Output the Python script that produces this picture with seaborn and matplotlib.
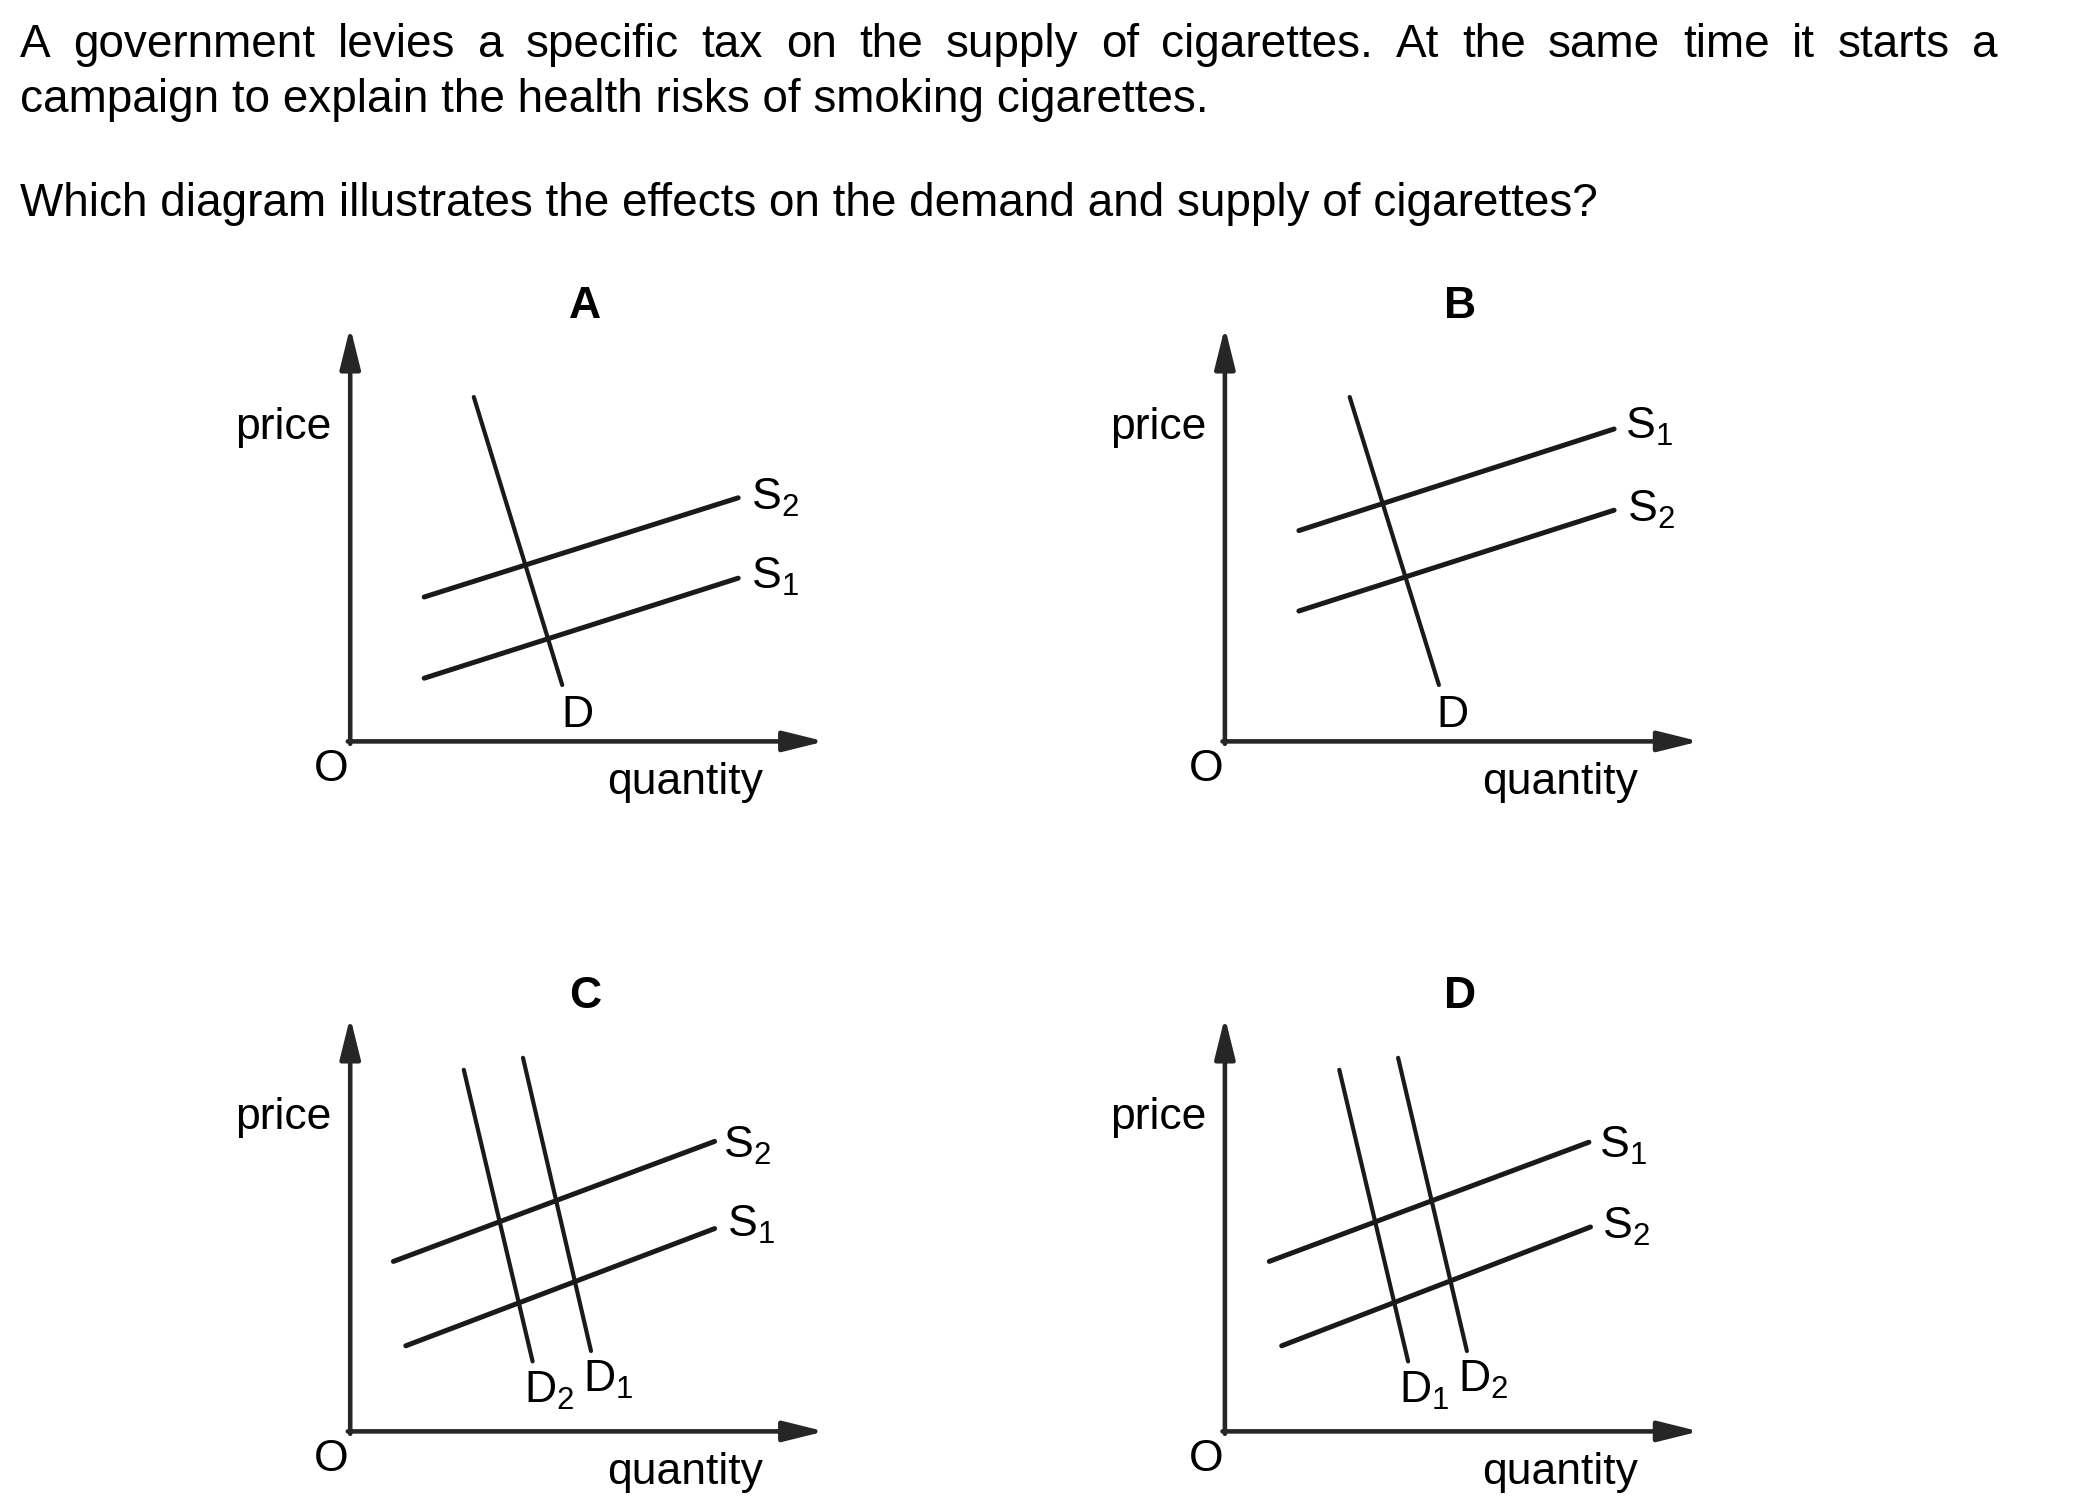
import numpy as np
import pandas as pd
import matplotlib
matplotlib.use("Agg")
import matplotlib.pyplot as plt
import seaborn as sns

# ---------------- text content ----------------
question_line1 = "A government levies a specific tax on the supply of cigarettes. At the same time it starts a"
question_line2 = "campaign to explain the health risks of smoking cigarettes."
question_line3 = "Which diagram illustrates the effects on the demand and supply of cigarettes?"

panel_names = ["A", "B", "C", "D"]
price_label = "price"
quantity_label = "quantity"
origin_label = "O"

# ---------------- curve data (quantity, price) in diagram units ----------------
A_curves = ["D", "S2", "S1"]
A_q_start = [3.09, 1.85, 1.85]
A_p_start = [8.61, 3.61, 1.58]
A_q_end = [5.30, 9.70, 9.70]
A_p_end = [1.41, 6.09, 4.08]

B_curves = ["D", "S1", "S2"]
B_q_start = [3.12, 1.85, 1.85]
B_p_start = [8.61, 5.27, 3.26]
B_q_end = [5.35, 9.73, 9.73]
B_p_end = [1.41, 7.81, 5.78]

C_curves = ["D2", "D1", "S2", "S1"]
C_q_start = [2.84, 4.32, 1.08, 1.39]
C_p_start = [9.04, 9.34, 4.25, 2.14]
C_q_end = [4.56, 6.02, 9.11, 9.11]
C_p_end = [1.75, 2.01, 7.25, 5.07]

D_curves = ["D1", "D2", "S1", "S2"]
D_q_start = [2.86, 4.33, 1.11, 1.42]
D_p_start = [9.04, 9.34, 4.25, 2.14]
D_q_end = [4.58, 6.05, 9.10, 9.14]
D_p_end = [1.75, 2.01, 7.23, 5.11]

panel_data = {
    "A": (A_curves, A_q_start, A_p_start, A_q_end, A_p_end),
    "B": (B_curves, B_q_start, B_p_start, B_q_end, B_p_end),
    "C": (C_curves, C_q_start, C_p_start, C_q_end, C_p_end),
    "D": (D_curves, D_q_start, D_p_start, D_q_end, D_p_end),
}

rows = []
for pname, (curves, qs, ps, qe, pe) in panel_data.items():
    for c, a, b, cc, d in zip(curves, qs, ps, qe, pe):
        rows.append({"panel": pname, "curve": c, "kind": c[0], "q": a, "p": b})
        rows.append({"panel": pname, "curve": c, "kind": c[0], "q": cc, "p": d})
df = pd.DataFrame(rows)

# ---------------- layout ----------------
W, H, DPI = 2099, 1511, 100
UNIT = 40.0
XL, XR, YB, YT = -4.0, 13.0, -2.0, 11.5
origins = {"A": (350.2, 741.4), "B": (1224.9, 741.4),
           "C": (350.2, 1431.4), "D": (1224.9, 1431.4)}
X_TIP, Y_TIP = 11.86, 10.36

label_pos = {
    "A": {"S2": (10.03, 5.80), "S1": (10.03, 3.82), "D": (5.28, 0.37)},
    "B": {"S1": (10.01, 7.57), "S2": (10.04, 5.50), "D": (5.28, 0.37)},
    "C": {"S2": (9.33, 6.84), "S1": (9.41, 4.86), "D2": (4.35, 0.72), "D1": (5.81, 0.98)},
    "D": {"S1": (9.36, 6.84), "S2": (9.42, 4.81), "D1": (4.35, 0.72), "D2": (5.82, 0.98)},
}

LINE_C = "#1a1a1a"
AXIS_C = "#262626"
Q_FS = 33
L_FS = 32

sns.set_theme(style="white")
plt.rcParams["font.family"] = ["Liberation Sans", "DejaVu Sans"]
plt.rcParams["mathtext.fontset"] = "custom"
plt.rcParams["mathtext.rm"] = "Liberation Sans"
plt.rcParams["mathtext.it"] = "Liberation Sans:italic"
plt.rcParams["mathtext.bf"] = "Liberation Sans:bold"

fig = plt.figure(figsize=(W / DPI, H / DPI), dpi=DPI)
fig.patch.set_facecolor("white")


def fmt_label(name):
    if len(name) == 2:
        return r"$\mathregular{%s_%s}$" % (name[0], name[1])
    return name


for pname in panel_names:
    ox, oy = origins[pname]
    left_px = ox + XL * UNIT
    bottom_px = oy - YB * UNIT
    ax = fig.add_axes([left_px / W, 1 - bottom_px / H,
                       (XR - XL) * UNIT / W, (YT - YB) * UNIT / H])
    ax.set_xlim(XL, XR)
    ax.set_ylim(YB, YT)
    ax.axis("off")

    sub = df[df["panel"] == pname]
    sns.lineplot(data=sub[sub["kind"] == "S"], x="q", y="p", units="curve",
                 estimator=None, sort=False, color=LINE_C, linewidth=3.6,
                 ax=ax, legend=False)
    sns.lineplot(data=sub[sub["kind"] == "D"], x="q", y="p", units="curve",
                 estimator=None, sort=False, color=LINE_C, linewidth=3.0,
                 ax=ax, legend=False)
    ax.set_xlabel("")
    ax.set_ylabel("")

    arrow = dict(arrowstyle="-|>,head_length=2.5,head_width=0.62",
                 mutation_scale=10, lw=3.3, color=AXIS_C,
                 shrinkA=0, shrinkB=0)
    ax.annotate("", xy=(X_TIP, 0), xytext=(-0.06, 0), arrowprops=arrow)
    ax.annotate("", xy=(0, Y_TIP), xytext=(0, -0.06), arrowprops=arrow)

    ax.text(-2.87, 7.57, price_label, ha="left", va="baseline",
            fontsize=L_FS, color="black")
    ax.text(-0.9, -0.98, origin_label, ha="left", va="baseline",
            fontsize=L_FS, color="black")
    ax.text(6.42, -1.31, quantity_label, ha="left", va="baseline",
            fontsize=L_FS, color="black")
    ax.text(5.88, 10.59, pname, ha="center", va="baseline",
            fontsize=L_FS, fontweight="bold", color="black")

    for cname, (u, v) in label_pos[pname].items():
        ax.text(u, v, fmt_label(cname), ha="left", va="baseline",
                fontsize=L_FS, color="black")

# ---------------- question text ----------------
X_LEFT, X_RIGHT = 20, 1998
BASE1, BASE2, BASE3 = 57, 112, 216

renderer = fig.canvas.get_renderer()
words = question_line1.split(" ")
widths = []
for w in words:
    t = fig.text(0, 0, w, fontsize=Q_FS)
    widths.append(t.get_window_extent(renderer).width)
    t.remove()
gap = (X_RIGHT - X_LEFT - sum(widths)) / (len(words) - 1)
x = X_LEFT
for w, wd in zip(words, widths):
    fig.text(x / W, 1 - BASE1 / H, w, fontsize=Q_FS, va="baseline",
             ha="left", color="black")
    x += wd + gap

fig.text(X_LEFT / W, 1 - BASE2 / H, question_line2, fontsize=Q_FS,
         va="baseline", ha="left", color="black")
fig.text(X_LEFT / W, 1 - BASE3 / H, question_line3, fontsize=Q_FS,
         va="baseline", ha="left", color="black")

fig.savefig("out.png", dpi=DPI, facecolor="white")
